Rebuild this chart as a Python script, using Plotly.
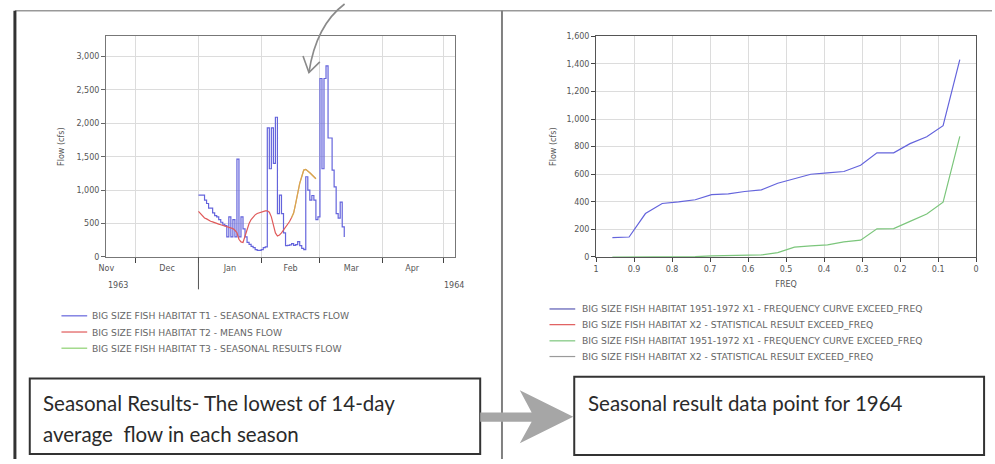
import pandas as pd
import plotly.graph_objects as go

W, H = 995, 464

# ---------------- seasonal flow series (daily, starting 1 Jan 1964) ----------------
extract_start = "1964-01-01"
extract_flow = [926, 926, 926, 850, 800, 730, 730, 660, 620, 600, 560, 520, 490, 470,
                300, 600, 300, 560, 300, 1465, 300, 600, 420, 300, 220, 190, 160, 140,
                110, 100, 100, 110, 140, 150, 1930, 1320, 1930, 1400, 2090, 650, 926,
                650, 360, 170, 175, 180, 200, 175, 185, 230, 170, 130, 110, 1200, 1000,
                850, 920, 850, 560, 600, 2670, 1320, 2670, 2860, 1780, 1780, 1300, 1050,
                650, 580, 820, 450, 300]

means_start = "1964-01-01"
means_flow = [681, 650, 610, 583, 570, 550, 534, 525, 510, 500, 492, 482, 472, 465, 455,
              448, 438, 425, 400, 363, 265, 225, 216, 314, 420, 500, 560, 600, 630, 650,
              662, 670, 680, 690, 690, 670, 600, 461, 360, 314, 330, 360, 400, 440, 480,
              530, 590, 657, 800, 960, 1100, 1200, 1300, 1310, 1290, 1260, 1230, 1200, 1171]

results_start = "1964-02-16"
results_flow = [590, 657, 800, 960, 1100, 1200, 1300, 1310, 1290, 1260, 1230, 1200, 1171]

month_labels = ["Nov", "Dec", "Jan", "Feb", "Mar", "Apr"]
month_label_pos = ["1963-11-16 12:00", "1963-12-16 12:00", "1964-01-16 12:00",
                   "1964-02-15 12:00", "1964-03-16 12:00", "1964-04-15 12:00"]
month_starts = ["1963-12-01", "1964-01-01", "1964-02-01", "1964-03-01",
                "1964-04-01", "1964-05-01"]

# ---------------- frequency curves ----------------
exceed_freq = [0.957, 0.913, 0.870, 0.826, 0.783, 0.739, 0.696, 0.652, 0.609, 0.565, 0.522,
               0.478, 0.435, 0.391, 0.348, 0.304, 0.261, 0.217, 0.174, 0.130, 0.087, 0.043]
curve_x1 = [140, 145, 315, 388, 400, 415, 452, 458, 475, 487, 535,
            568, 600, 610, 620, 665, 755, 755, 822, 872, 952, 1432]
curve_x1b = [0, 0, 0, 0, 0, 2, 8, 10, 12, 15, 32,
             72, 80, 88, 110, 122, 204, 206, 258, 312, 397, 875]

legend_left = ["BIG SIZE FISH HABITAT T1 - SEASONAL EXTRACTS FLOW",
               "BIG SIZE FISH HABITAT T2 - MEANS FLOW",
               "BIG SIZE FISH HABITAT T3 - SEASONAL RESULTS FLOW"]
legend_right = ["BIG SIZE FISH HABITAT 1951-1972 X1 - FREQUENCY CURVE EXCEED_FREQ",
                "BIG SIZE FISH HABITAT X2 - STATISTICAL RESULT EXCEED_FREQ",
                "BIG SIZE FISH HABITAT 1951-1972 X1 - FREQUENCY CURVE EXCEED_FREQ",
                "BIG SIZE FISH HABITAT X2 - STATISTICAL RESULT EXCEED_FREQ"]

BLUE = "#6464dc"
RED = "#e05a5a"
GREEN = "#7cc67c"
GRAY = "#9a9a9a"
LEFT_COLORS = [BLUE, RED, "#8cd070"]
RIGHT_COLORS = ["#5a5ab4", RED, GREEN, GRAY]
FONT = "DejaVu Sans"


def px_x(v):
    return v / W


def px_y(v):
    return 1 - v / H


fig = go.Figure()

d_extract = pd.date_range(extract_start, periods=len(extract_flow), freq="D")
d_means = pd.date_range(means_start, periods=len(means_flow), freq="D")
d_results = pd.date_range(results_start, periods=len(results_flow), freq="D")

fig.add_trace(go.Scatter(x=d_extract, y=extract_flow, mode="lines", line_shape="hv",
                         line=dict(color=BLUE, width=1.2), name=legend_left[0],
                         xaxis="x", yaxis="y"))
fig.add_trace(go.Scatter(x=d_means, y=means_flow, mode="lines",
                         line=dict(color=RED, width=1.2), name=legend_left[1],
                         xaxis="x", yaxis="y"))
fig.add_trace(go.Scatter(x=d_results, y=results_flow, mode="lines", opacity=0.6,
                         line=dict(color="#d0e040", width=1.2), name=legend_left[2],
                         xaxis="x", yaxis="y"))

fig.add_trace(go.Scatter(x=exceed_freq, y=curve_x1, mode="lines",
                         line=dict(color=BLUE, width=1.2), name=legend_right[0],
                         xaxis="x2", yaxis="y2"))
fig.add_trace(go.Scatter(x=exceed_freq, y=curve_x1b, mode="lines",
                         line=dict(color=GREEN, width=1.2), name=legend_right[2],
                         xaxis="x2", yaxis="y2"))

tickfont = dict(family=FONT, size=8, color="#555")
titlefont = dict(family=FONT, size=8, color="#555")
ydom = [px_y(258), px_y(33)]

fig.update_layout(
    width=W, height=H, margin=dict(l=0, r=0, t=0, b=0),
    paper_bgcolor="white", plot_bgcolor="white", showlegend=False,
    font=dict(family=FONT, size=8, color="#555"),
    xaxis=dict(domain=[px_x(100), px_x(453)], type="date",
               range=["1963-11-16 08:00", "1964-05-06 22:00"],
               tickvals=month_label_pos, ticktext=month_labels, ticks="",
               ticklabelstandoff=3,
               showgrid=False, tickfont=tickfont,
               minor=dict(tickvals=month_starts, ticks="outside", ticklen=5,
                          tickcolor="#444", showgrid=True, gridcolor="#dcdcdc",
                          gridwidth=1),
               showline=True, linecolor="#777", linewidth=1, mirror=True,
               zeroline=False, anchor="y"),
    yaxis=dict(domain=ydom, range=[0, 3300], tickvals=[0, 500, 1000, 1500, 2000, 2500, 3000],
               tickformat=",", ticks="outside", ticklen=4, tickcolor="#666",
               showgrid=True, gridcolor="#dcdcdc", tickfont=tickfont,
               showline=True, linecolor="#777", linewidth=1, mirror=True,
               zeroline=False, anchor="x",
               title=dict(text="Flow (cfs)", font=titlefont, standoff=10)),
    xaxis2=dict(domain=[px_x(595), px_x(979)], range=[1, 0],
                tickvals=[1, 0.9, 0.8, 0.7, 0.6, 0.5, 0.4, 0.3, 0.2, 0.1, 0],
                ticktext=["1", "0.9", "0.8", "0.7", "0.6", "0.5", "0.4", "0.3", "0.2", "0.1", "0"],
                ticks="outside", ticklen=4, tickcolor="#444", tickfont=tickfont,
                showgrid=True, gridcolor="#dcdcdc",
                showline=True, linecolor="#555", linewidth=1, mirror=True,
                zeroline=False, anchor="y2",
                title=dict(text="FREQ", font=titlefont, standoff=8)),
    yaxis2=dict(domain=ydom, range=[0, 1600], dtick=200, tickformat=",",
                ticks="outside", ticklen=4, tickcolor="#444", tickfont=tickfont,
                showgrid=True, gridcolor="#dcdcdc",
                showline=True, linecolor="#555", linewidth=1, mirror=True,
                zeroline=False, anchor="x2",
                title=dict(text="Flow (cfs)", font=titlefont, standoff=8)),
)

shapes = []
ann = []

# legend keys drawn as line samples with labels
legend_font = dict(family=FONT, size=9.2, color="#666")
for name, color, yc in zip(legend_left, LEFT_COLORS, [318, 334.5, 351]):
    shapes.append(dict(type="line", xref="paper", yref="paper", x0=px_x(55), x1=px_x(81),
                       y0=px_y(yc), y1=px_y(yc), line=dict(color=color, width=1.2)))
    ann.append(dict(text=name, xref="paper", yref="paper", x=px_x(84), y=px_y(yc),
                    xanchor="left", yanchor="middle", showarrow=False, font=legend_font))
for name, color, yc in zip(legend_right, RIGHT_COLORS, [311, 327, 343.5, 359.5]):
    shapes.append(dict(type="line", xref="paper", yref="paper", x0=px_x(548), x1=px_x(574),
                       y0=px_y(yc), y1=px_y(yc), line=dict(color=color, width=1.2)))
    ann.append(dict(text=name, xref="paper", yref="paper", x=px_x(579), y=px_y(yc),
                    xanchor="left", yanchor="middle", showarrow=False, font=legend_font))

# panel frames
shapes.append(dict(type="line", xref="paper", yref="paper", x0=px_x(8), x1=1,
                   y0=px_y(7), y1=px_y(7), line=dict(color="#999", width=1.5)))
shapes.append(dict(type="line", xref="paper", yref="paper", x0=px_x(8), x1=px_x(8),
                   y0=px_y(7), y1=0, line=dict(color="#333", width=3)))
shapes.append(dict(type="line", xref="paper", yref="paper", x0=px_x(500), x1=px_x(500),
                   y0=px_y(7), y1=0, line=dict(color="#808080", width=2)))
# year divider tick below the date axis
shapes.append(dict(type="line", xref="x", yref="paper", x0="1964-01-01", x1="1964-01-01",
                   y0=px_y(258), y1=px_y(291), line=dict(color="#555", width=1)))
# text boxes
shapes.append(dict(type="rect", xref="paper", yref="paper", x0=px_x(23), x1=px_x(478),
                   y0=px_y(459), y1=px_y(382), line=dict(color="#333", width=2)))
shapes.append(dict(type="rect", xref="paper", yref="paper", x0=px_x(573), x1=px_x(987),
                   y0=px_y(460), y1=px_y(380), line=dict(color="#333", width=2)))


def path(points, close=True):
    s = "M " + " L ".join(f"{px_x(a):.5f},{px_y(b):.5f}" for a, b in points)
    return s + (" Z" if close else "")


# block arrow between the text boxes
shapes.append(dict(type="path", xref="paper", yref="paper",
                   path=path([(478, 416.5), (530, 416.5), (518, 394), (572, 421),
                              (518, 448), (530, 426), (478, 426)]),
                   fillcolor="#a6a6a6", line=dict(width=0)))
# curved pointer at the top of the seasonal chart
shapes.append(dict(type="path", xref="paper", yref="paper",
                   path=(f"M {px_x(341):.5f},{px_y(0):.5f} Q {px_x(312):.5f},{px_y(22):.5f} "
                         f"{px_x(305):.5f},{px_y(70):.5f}"),
                   line=dict(color="#8a8a8a", width=1.6)))
shapes.append(dict(type="path", xref="paper", yref="paper",
                   path=path([(299, 53), (305, 70), (316, 59)], close=False),
                   line=dict(color="#8a8a8a", width=1.6)))
fig.update_layout(shapes=shapes)

for label, xpos in [("1963", "1963-11-22 12:00"), ("1964", "1964-05-06 06:00")]:
    ann.append(dict(text=label, xref="x", yref="paper", x=xpos, y=px_y(287),
                    showarrow=False, font=dict(family=FONT, size=8, color="#555"),
                    xanchor="center", yanchor="middle"))
box_font = dict(family="Lato", size=20.5, color="#2a2a2a")
ann.append(dict(text="Seasonal Results- The lowest of 14-day", xref="paper", yref="paper",
                x=px_x(34), y=px_y(407), xanchor="left", yanchor="middle",
                showarrow=False, font=box_font))
ann.append(dict(text="average  flow in each season", xref="paper", yref="paper",
                x=px_x(34), y=px_y(439), xanchor="left", yanchor="middle",
                showarrow=False, font=box_font))
ann.append(dict(text="Seasonal result data point for 1964", xref="paper", yref="paper",
                x=px_x(585), y=px_y(407), xanchor="left", yanchor="middle",
                showarrow=False, font=box_font))
fig.update_layout(annotations=ann)

fig.write_html("out.html")
